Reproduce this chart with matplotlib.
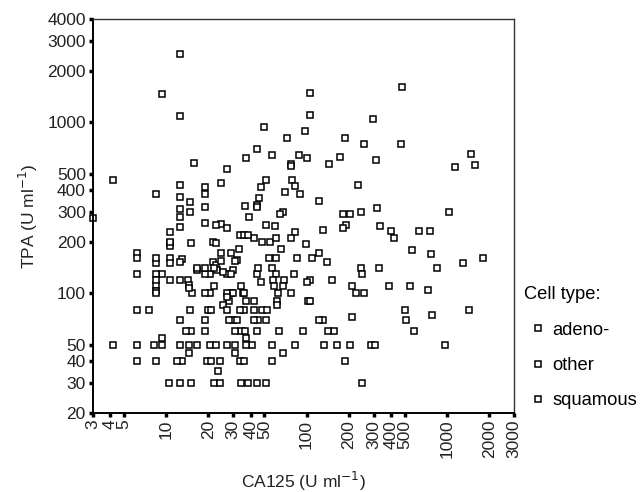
import matplotlib
matplotlib.use('Agg')
import matplotlib.pyplot as plt
from matplotlib.ticker import FixedLocator, FixedFormatter, NullLocator

plt.rcParams['font.family'] = ['Liberation Sans', 'DejaVu Sans']

# ---- data: (CA125, TPA) pairs per cell type ----
adeno = [
    (12.5, 2500), (105, 1490), (296, 1050), (72, 810), (470, 745), (57, 640),
    (173, 625), (15.7, 580), (145, 570), (27, 530), (79, 460), (12.5, 430),
    (18.8, 420), (8.4, 380), (12.5, 365), (123, 345), (18.8, 320), (320, 315),
    (68, 300), (65, 290), (12.5, 280), (51, 252), (190, 250), (83, 229),
    (400, 230), (760, 230), (12.5, 245), (24.5, 255), (33.5, 220), (42, 210),
    (55, 198), (10.6, 197), (21.5, 200), (66, 181), (122, 172), (140, 152),
    (6.2, 172), (8.4, 150), (13, 158), (21.5, 152), (32, 156), (61, 160),
    (29, 172), (330, 140), (44, 130), (69, 120), (68, 110), (105, 120),
    (245, 140), (225, 100), (550, 110), (63, 100), (29, 100), (6.2, 130),
    (8.4, 111), (9.4, 130), (14.3, 120), (15.3, 100), (20.5, 130), (27, 130),
    (20.5, 100), (34, 110), (28, 90), (62, 90), (14.8, 80), (25.5, 85),
    (36, 80), (48, 80), (1440, 80), (12.5, 70), (30, 70), (45, 70), (132, 70),
    (15, 60), (34, 60), (64, 60), (156, 60), (9.4, 55), (4.2, 50), (9.4, 50),
    (16.5, 50), (27, 50), (41, 50), (134, 50), (290, 50), (14.6, 45), (6.2, 40),
    (13, 40), (24, 40), (187, 40), (10.5, 30), (22, 30), (38, 30), (250, 30),
]
other = [
    (9.3, 1470), (105, 1100), (50, 940), (187, 810), (44, 700), (88, 640),
    (310, 605), (77, 570), (1590, 560), (4.2, 460), (24.5, 440), (233, 430),
    (47, 420), (70, 390), (46, 360), (44, 330), (44, 318), (14.8, 300),
    (244, 300), (181, 290), (39, 280), (60, 248), (181, 240), (78, 210),
    (420, 210), (10.6, 229), (19, 258), (27, 242), (36, 220), (61, 210),
    (99, 195), (10.6, 190), (22.5, 197), (565, 180), (110, 160), (1310, 150),
    (6.2, 160), (10.6, 160), (24.5, 172), (22.5, 146), (54, 160), (33, 181),
    (850, 140), (57, 140), (61, 130), (47, 117), (82, 130), (152, 120),
    (250, 130), (255, 100), (735, 105), (35, 100), (8.4, 130), (8.4, 103),
    (10.6, 120), (14.6, 112), (19, 130), (23, 136), (30, 136), (27, 100),
    (16.5, 136), (22, 110), (37, 90), (103, 90), (62, 85), (20, 80), (27, 80),
    (6.2, 80), (42, 80), (500, 80), (785, 75), (19, 70), (32, 70), (51, 70),
    (515, 70), (19, 60), (36.5, 60), (94, 60), (580, 60), (37, 55), (6.2, 50),
    (12.5, 50), (20.5, 50), (31, 50), (57, 50), (164, 50), (305, 50), (31, 45),
    (8.4, 40), (19.5, 40), (33.5, 40), (23.5, 35), (12.5, 30), (24, 30), (44, 30),
]
squamous = [
    (12.5, 1080), (480, 1610), (97, 890), (255, 750), (37, 615), (101, 615),
    (1480, 655), (77, 555), (1140, 550), (51, 460), (83, 425), (18.8, 380),
    (90, 380), (14.8, 340), (36.5, 325), (12.5, 310), (1040, 300), (204, 290),
    (3.0, 275), (130, 233), (335, 248), (630, 230), (22.5, 250), (38.5, 220),
    (48, 200), (10.6, 200), (15, 197), (775, 170), (86, 160), (1800, 160),
    (8.4, 160), (10.6, 150), (12.5, 152), (24.5, 155), (31, 155), (45, 140),
    (58, 120), (59, 110), (101, 116), (210, 110), (385, 110), (78, 100),
    (16.5, 140), (19, 140), (22, 140), (8.4, 120), (8.4, 100), (12.5, 120),
    (14.6, 107), (25.5, 133), (19, 100), (30, 100), (36, 100), (29, 130),
    (27, 95), (42, 90), (106, 90), (21, 80), (33.5, 80), (7.6, 80), (52, 80),
    (210, 73), (28, 70), (42, 70), (123, 70), (13.8, 60), (31, 60), (44, 60),
    (143, 60), (8.2, 50), (14.6, 50), (22.5, 50), (37, 50), (83, 50), (204, 50),
    (970, 50), (68, 45), (12, 40), (21, 40), (36, 40), (57, 40), (15, 30),
    (34, 30), (51, 30),
]

cell_types = ['adeno-', 'other', 'squamous']
x_ticks = [3, 4, 5, 10, 20, 30, 40, 50, 100, 200, 300, 400, 500, 1000, 2000, 3000]
y_ticks = [20, 30, 40, 50, 100, 200, 300, 400, 500, 1000, 2000, 3000, 4000]

FS = 12.5

fig = plt.figure(figsize=(6.4, 4.92), dpi=100)
ax = fig.add_axes([0.145, 0.161, 0.658, 0.800])

for name, pts in zip(cell_types, [adeno, other, squamous]):
    xs = [p[0] for p in pts]
    ys = [p[1] for p in pts]
    ax.plot(xs, ys, linestyle='none', marker='s', ms=3.7, mew=1.1,
            mfc='white', mec='black', label=name, clip_on=False)

ax.set_xscale('log')
ax.set_yscale('log')
ax.set_xlim(3, 3000)
ax.set_ylim(20, 4000)

ax.xaxis.set_major_locator(FixedLocator(x_ticks))
ax.xaxis.set_major_formatter(FixedFormatter([str(t) for t in x_ticks]))
ax.xaxis.set_minor_locator(NullLocator())
ax.yaxis.set_major_locator(FixedLocator(y_ticks))
ax.yaxis.set_major_formatter(FixedFormatter([str(t) for t in y_ticks]))
ax.yaxis.set_minor_locator(NullLocator())

ax.tick_params(axis='both', direction='out', length=3, width=2.5,
               color='black', labelsize=FS, labelcolor='#222222', pad=2)
ax.tick_params(axis='x', labelrotation=90)

for side in ['left', 'bottom']:
    ax.spines[side].set_linewidth(1.4)
for side in ['top', 'right']:
    ax.spines[side].set_linewidth(1.0)
    ax.spines[side].set_color('#333333')

ax.set_xlabel('CA125 (U ml$^{-1}$)', fontsize=FS, color='#222222', labelpad=8)
ax.set_ylabel('TPA (U ml$^{-1}$)', fontsize=FS, color='#222222', labelpad=5)

leg = ax.legend(loc='upper left', bbox_to_anchor=(0.818, 0.418),
                bbox_transform=fig.transFigure, frameon=False,
                title='Cell type:', fontsize=13.2, title_fontsize=13.2,
                handlelength=1.55, handletextpad=0.02, labelspacing=1.0,
                borderaxespad=0, borderpad=0)
leg._legend_box.align = 'left'

fig.savefig('out.png', dpi=100)
